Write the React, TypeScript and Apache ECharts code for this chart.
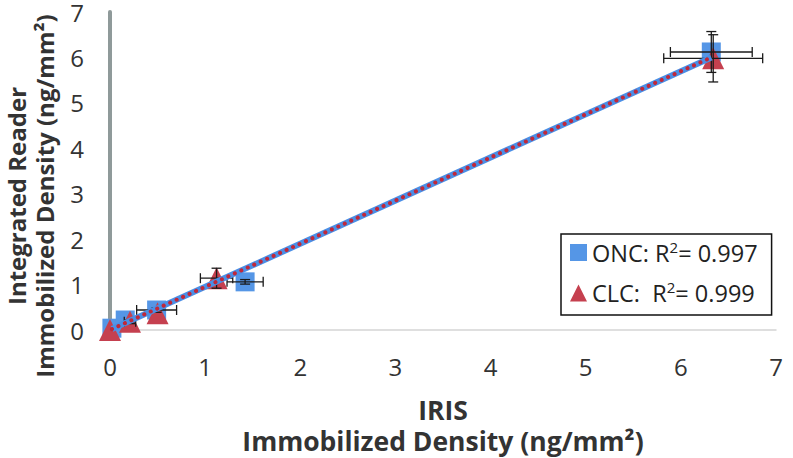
import React, { useEffect, useRef } from "react";
import * as echarts from "echarts";

const axisTicks = [0, 1, 2, 3, 4, 5, 6, 7];

// ONC: [x, y]
const oncPoints = [
  [0.02, 0.04],
  [0.16, 0.22],
  [0.49, 0.44],
  [1.42, 1.06],
  [6.32, 6.12],
];
// CLC: [x, y]
const clcPoints = [
  [0.0, 0.0],
  [0.21, 0.18],
  [0.5, 0.37],
  [1.12, 1.14],
  [6.34, 5.98],
];
// error bars: [x, y, xErr, yErr]
const oncErrors = [
  [0.49, 0.44, 0.21, 0.05],
  [1.42, 1.06, 0.19, 0.05],
  [6.32, 6.12, 0.43, 0.45],
];
const clcErrors = [
  [0.21, 0.18, 0.06, 0.04],
  [1.12, 1.14, 0.17, 0.22],
  [6.34, 5.98, 0.52, 0.52],
];
const oncTrend = [
  [0.02, 0.02],
  [6.32, 6.0],
];
const clcTrend = [
  [0.02, 0.02],
  [6.32, 6.0],
];

const FONT = "Open Sans";
const TXT = "#333333";

export default function App() {
  const ref = useRef<HTMLDivElement>(null);
  useEffect(() => {
    const chart = echarts.init(ref.current!, null, { renderer: "svg" });
    const errData = [...oncErrors, ...clcErrors];
    const option = {
      animation: false,
      backgroundColor: "#ffffff",
      textStyle: { fontFamily: FONT },
      grid: { left: 110, right: 17, top: 12, bottom: 128, outerBoundsMode: "none", containLabel: false },
      xAxis: {
        type: "value",
        min: 0,
        max: 7,
        interval: 1,
        name: "IRIS\nImmobilized Density (ng/mm²)",
        nameLocation: "middle",
        nameGap: 64,
        nameTextStyle: { fontFamily: FONT, fontSize: 26.5, fontWeight: "bold", color: TXT, lineHeight: 31 },
        axisLine: { show: true, onZero: false, lineStyle: { color: "#d4d4d4", width: 1.5 } },
        axisTick: { show: false },
        splitLine: { show: false },
        axisLabel: { fontFamily: FONT, fontSize: 24, color: TXT, margin: 24, formatter: (v: number) => (axisTicks.includes(v) ? String(v) : "") },
      },
      yAxis: {
        type: "value",
        min: 0,
        max: 7,
        interval: 1,
        name: "Integrated Reader\nImmobilized Density (ng/mm²)",
        nameLocation: "middle",
        nameGap: 52,
        nameRotate: 90,
        nameTextStyle: { fontFamily: FONT, fontSize: 24, fontWeight: "bold", color: TXT, lineHeight: 28, padding: [0, 50, 0, 0] },
        axisLine: { show: true, onZero: false, lineStyle: { color: "#8f9a9a", width: 4 } },
        axisTick: { show: false },
        splitLine: { show: false },
        axisLabel: { fontFamily: FONT, fontSize: 24, color: TXT, margin: 26, formatter: (v: number) => (axisTicks.includes(v) ? String(v) : "") },
      },
      legend: {
        orient: "vertical",
        left: 561,
        top: 234,
        borderColor: "#111",
        borderWidth: 1.5,
        padding: [5, 14, 10, 9],
        itemGap: 15,
        itemWidth: 17,
        itemHeight: 17,
        data: [
          { name: "ONC", icon: "rect" },
          { name: "CLC", icon: "triangle" },
        ],
        formatter: (name: string) =>
          name === "ONC" ? "{a|ONC: R}{s|2}{a|= 0.997}" : "{a|CLC:  R}{s|2}{a|= 0.999}",
        textStyle: {
          fontFamily: FONT,
          color: "#222",
          rich: {
            a: { fontSize: 23.5, fontFamily: FONT, color: "#222", lineHeight: 27 },
            s: { fontSize: 15, fontFamily: FONT, color: "#222", lineHeight: 17, verticalAlign: "top" },
          },
        },
      },
      series: [
        {
          name: "ONC",
          type: "scatter",
          symbol: "rect",
          symbolSize: 19,
          itemStyle: { color: "#5596e6", opacity: 1 },
          data: oncPoints,
          z: 2,
        },
        {
          name: "CLC",
          type: "scatter",
          symbol: "triangle",
          symbolSize: 22,
          itemStyle: { color: "#c5404f", opacity: 1 },
          data: clcPoints,
          z: 3,
        },
        {
          name: "errors",
          type: "custom",
          data: errData,
          z: 4,
          renderItem: (params: any, api: any) => {
            const x = api.value(0), y = api.value(1), ex = api.value(2), ey = api.value(3);
            const c = api.coord([x, y]);
            const l = api.coord([x - ex, y]);
            const r = api.coord([x + ex, y]);
            const t = api.coord([x, y + ey]);
            const b = api.coord([x, y - ey]);
            const cap = 5;
            const st = { stroke: "#1a1a1a", lineWidth: 1.3 };
            return {
              type: "group",
              children: [
                { type: "line", shape: { x1: l[0], y1: c[1], x2: r[0], y2: c[1] }, style: st },
                { type: "line", shape: { x1: l[0], y1: c[1] - cap, x2: l[0], y2: c[1] + cap }, style: st },
                { type: "line", shape: { x1: r[0], y1: c[1] - cap, x2: r[0], y2: c[1] + cap }, style: st },
                { type: "line", shape: { x1: c[0], y1: t[1], x2: c[0], y2: b[1] }, style: st },
                { type: "line", shape: { x1: c[0] - cap, y1: t[1], x2: c[0] + cap, y2: t[1] }, style: st },
                { type: "line", shape: { x1: c[0] - cap, y1: b[1], x2: c[0] + cap, y2: b[1] }, style: st },
              ],
            };
          },
        },
        {
          name: "oncTrend",
          type: "line",
          data: oncTrend,
          symbol: "none",
          lineStyle: { color: "#4a8fe6", width: 6 },
          z: 5,
        },
        {
          name: "clcTrend",
          type: "line",
          data: clcTrend,
          symbol: "none",
          lineStyle: { color: "#c0283a", width: 4, type: [0.1, 7], cap: "round" },
          z: 6,
        },
      ],
    };
    chart.setOption(option as any);
    return () => chart.dispose();
  }, []);
  return <div ref={ref} style={{ width: 793, height: 458, position: "absolute", left: 0, top: 0 }} />;
}
